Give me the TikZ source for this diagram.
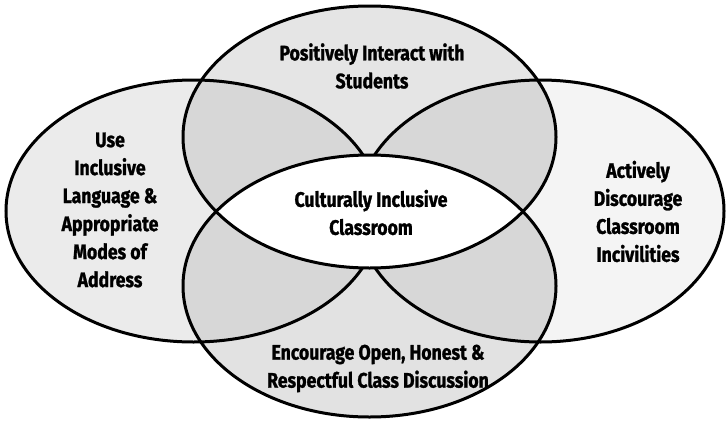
\documentclass[tikz,border=0pt]{standalone}
\usepackage{fontspec}
\newfontfamily\labelfont{Fira Sans}[FakeStretch=0.84,FakeBold=1.2]
\definecolor{topfill}{gray}{0.90}
\definecolor{leftfill}{gray}{0.92}
\definecolor{rightfill}{gray}{0.955}
\definecolor{botfill}{gray}{0.885}
\definecolor{overlapfill}{gray}{0.845}
\def\topell{(369.5,137) ellipse [x radius=186.5pt, y radius=131pt]}
\def\botell{(369.5,286) ellipse [x radius=186.5pt, y radius=131pt]}
\def\leftell{(193.5,211) ellipse [x radius=187.5pt, y radius=131pt]}
\def\rightell{(540.5,211) ellipse [x radius=183.5pt, y radius=131pt]}
\tikzset{
  rim/.style={draw=black, line width=3pt},
  label/.style={font=\labelfont\bfseries\fontsize{21}{28}\selectfont, align=center, inner sep=0pt}
}
\begin{document}
\begin{tikzpicture}[x=1pt,y=-1pt]
      \useasboundingbox (0,0) rectangle (726,421);
      \fill[leftfill] \leftell;
      \fill[rightfill] \rightell;
      \fill[topfill] \topell;
      \fill[botfill] \botell;
      \begin{scope}
        \clip \leftell;
        \fill[overlapfill] \topell;
        \fill[overlapfill] \botell;
      \end{scope}
      \begin{scope}
        \clip \rightell;
        \fill[overlapfill] \topell;
        \fill[overlapfill] \botell;
      \end{scope}
      \draw[rim] \leftell;
      \draw[rim] \rightell;
      \begin{scope}
        \clip \topell;
        \fill[white] \botell;
      \end{scope}
      \draw[rim] \topell;
      \draw[rim] \botell;
      \node[label] (interact) at (372,66) {Positively Interact with\\Students};
      \node[label] (culture) at (371,212.5) {Culturally Inclusive\\Classroom};
      \node[label] (language) at (110,210) {Use\\Inclusive\\Language \&\\Appropriate\\Modes of\\Address};
      \node[label] (incivil) at (638,211.5) {Actively\\Discourage\\Classroom\\Incivilities};
      \node[label] (discuss) at (378,368.5) {Encourage Open, Honest \&\\Respectful Class Discussion};
    \end{tikzpicture}
\end{document}
